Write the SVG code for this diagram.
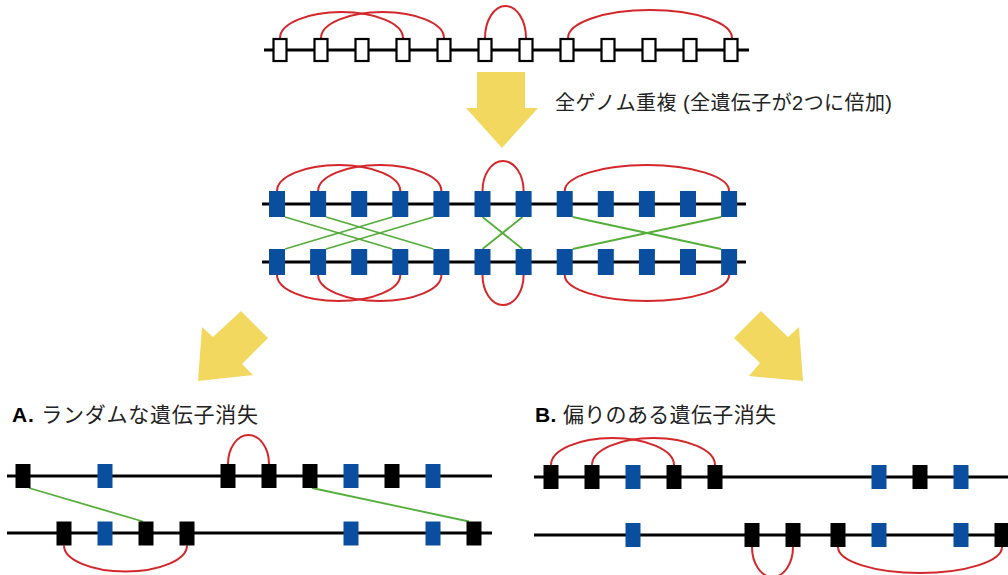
<svg xmlns="http://www.w3.org/2000/svg" width="1008" height="575" viewBox="0 0 1008 575">
<defs>
<style>
.chr{stroke:#000;stroke-width:3;fill:none}
.w{fill:#fff;stroke:#000;stroke-width:2.2}
.b{fill:#0a4ea0}
.k{fill:#000}
.red{fill:none;stroke:#d4272b;stroke-width:2}
.grn{fill:none;stroke:#55ad3a;stroke-width:1.8}
.arr{fill:#f3d85f}
.t{font-family:"Liberation Sans","Noto Sans CJK JP",sans-serif;fill:#222}
</style>
</defs>
<rect width="1008" height="575" fill="#fff"/>

<g id="connectors">
  <!-- top arcs -->
  <path class="red" d="M280 38 A61.5 26 0 0 1 403 38"/>
  <path class="red" d="M321 38 A61.5 26 0 0 1 444 38"/>
  <path class="red" d="M485 38 A20.5 32 0 0 1 526 38"/>
  <path class="red" d="M568 38 A82 28 0 0 1 732 38"/>
  <!-- middle top arcs -->
  <path class="red" d="M277 191 A61.6 26 0 0 1 400.3 191"/>
  <path class="red" d="M318.1 191 A61.6 26 0 0 1 441.4 191"/>
  <path class="red" d="M482.5 191 A20.55 30 0 0 1 523.6 191"/>
  <path class="red" d="M564.7 191 A82.2 26 0 0 1 729.1 191"/>
  <!-- middle bottom arcs -->
  <path class="red" d="M277 275 A61.6 26 0 0 0 400.3 275"/>
  <path class="red" d="M318.1 275 A61.6 26 0 0 0 441.4 275"/>
  <path class="red" d="M482.5 275 A20.55 30 0 0 0 523.6 275"/>
  <path class="red" d="M564.7 275 A82.2 26 0 0 0 729.1 275"/>
  <!-- middle green -->
  <line class="grn" x1="285" y1="217" x2="392.3" y2="249"/>
  <line class="grn" x1="326.1" y1="217" x2="433.4" y2="249"/>
  <line class="grn" x1="392.3" y1="217" x2="285" y2="249"/>
  <line class="grn" x1="433.4" y1="217" x2="326.1" y2="249"/>
  <line class="grn" x1="482.5" y1="217" x2="522.5" y2="249"/>
  <line class="grn" x1="522.5" y1="217" x2="482.5" y2="249"/>
  <line class="grn" x1="572.7" y1="217" x2="721.1" y2="249"/>
  <line class="grn" x1="721.1" y1="217" x2="572.7" y2="249"/>
  <!-- A arcs / lines -->
  <path class="red" d="M228 464 A20.5 29 0 0 1 269 464"/>
  <path class="red" d="M64 545.5 A61.5 26 0 0 0 187 545.5"/>
  <line class="grn" x1="29" y1="488" x2="143" y2="521.5"/>
  <line class="grn" x1="312" y1="488" x2="469" y2="521.5"/>
  <!-- B arcs -->
  <path class="red" d="M551 465 A61.5 27 0 0 1 674 465"/>
  <path class="red" d="M592 465 A61.5 27 0 0 1 715 465"/>
  <path class="red" d="M752 547 A20.5 30 0 0 0 793 547"/>
  <path class="red" d="M838 547 A82 26 0 0 0 1002 547"/>
</g>

<g id="chromosome-original">
  <line class="chr" x1="264" y1="50" x2="749" y2="50"/>
  <rect class="w" x="273.5" y="39" width="13" height="22"/>
  <rect class="w" x="314.5" y="39" width="13" height="22"/>
  <rect class="w" x="355.5" y="39" width="13" height="22"/>
  <rect class="w" x="396.5" y="39" width="13" height="22"/>
  <rect class="w" x="437.5" y="39" width="13" height="22"/>
  <rect class="w" x="478.5" y="39" width="13" height="22"/>
  <rect class="w" x="519.5" y="39" width="13" height="22"/>
  <rect class="w" x="560.5" y="39" width="13" height="22"/>
  <rect class="w" x="601.5" y="39" width="13" height="22"/>
  <rect class="w" x="642.5" y="39" width="13" height="22"/>
  <rect class="w" x="683.5" y="39" width="13" height="22"/>
  <rect class="w" x="724.5" y="39" width="13" height="22"/>
</g>

<g id="arrow-wgd">
  <polygon class="arr" points="477,72 525,72 525,108 538,108 502,148 466,108 477,108"/>
  <text class="t" x="555" y="110" font-size="20" textLength="337" lengthAdjust="spacing">全ゲノム重複 (全遺伝子が2つに倍加)</text>
</g>

<g id="chromosome-dup-top">
  <line class="chr" x1="262" y1="204" x2="746" y2="204"/>
  <rect class="b" x="269" y="191" width="16" height="26"/>
  <rect class="b" x="310.1" y="191" width="16" height="26"/>
  <rect class="b" x="351.2" y="191" width="16" height="26"/>
  <rect class="b" x="392.3" y="191" width="16" height="26"/>
  <rect class="b" x="433.4" y="191" width="16" height="26"/>
  <rect class="b" x="474.5" y="191" width="16" height="26"/>
  <rect class="b" x="515.6" y="191" width="16" height="26"/>
  <rect class="b" x="556.7" y="191" width="16" height="26"/>
  <rect class="b" x="597.8" y="191" width="16" height="26"/>
  <rect class="b" x="638.9" y="191" width="16" height="26"/>
  <rect class="b" x="680" y="191" width="16" height="26"/>
  <rect class="b" x="721.1" y="191" width="16" height="26"/>
</g>

<g id="chromosome-dup-bottom">
  <line class="chr" x1="262" y1="262" x2="746" y2="262"/>
  <rect class="b" x="269" y="249" width="16" height="26"/>
  <rect class="b" x="310.1" y="249" width="16" height="26"/>
  <rect class="b" x="351.2" y="249" width="16" height="26"/>
  <rect class="b" x="392.3" y="249" width="16" height="26"/>
  <rect class="b" x="433.4" y="249" width="16" height="26"/>
  <rect class="b" x="474.5" y="249" width="16" height="26"/>
  <rect class="b" x="515.6" y="249" width="16" height="26"/>
  <rect class="b" x="556.7" y="249" width="16" height="26"/>
  <rect class="b" x="597.8" y="249" width="16" height="26"/>
  <rect class="b" x="638.9" y="249" width="16" height="26"/>
  <rect class="b" x="680" y="249" width="16" height="26"/>
  <rect class="b" x="721.1" y="249" width="16" height="26"/>
</g>

<g id="arrow-left">
  <polygon class="arr" points="241,311 268,338 242,364 253,375 198,381 202,327 213,337"/>
</g>
<g id="arrow-right">
  <polygon class="arr" points="761,311 734,338 760,363 749,376 803,381 799,327 788,337"/>
</g>

<g id="label-A">
  <text class="t" x="12" y="421.5" font-size="21" textLength="246" lengthAdjust="spacing"><tspan font-weight="bold" fill="#000">A.</tspan> ランダムな遺伝子消失</text>
</g>

<g id="chromosome-A-top">
  <line class="chr" x1="7" y1="476" x2="492" y2="476"/>
  <rect class="k" x="15.5" y="464" width="15" height="24"/>
  <rect class="b" x="97.5" y="464" width="15" height="24"/>
  <rect class="k" x="220.5" y="464" width="15" height="24"/>
  <rect class="k" x="261.5" y="464" width="15" height="24"/>
  <rect class="k" x="302.5" y="464" width="15" height="24"/>
  <rect class="b" x="343.5" y="464" width="15" height="24"/>
  <rect class="k" x="384.5" y="464" width="15" height="24"/>
  <rect class="b" x="425.5" y="464" width="15" height="24"/>
</g>

<g id="chromosome-A-bottom">
  <line class="chr" x1="7" y1="533" x2="492" y2="533"/>
  <rect class="k" x="56.5" y="521.5" width="15" height="24"/>
  <rect class="b" x="97.5" y="521.5" width="15" height="24"/>
  <rect class="k" x="138.5" y="521.5" width="15" height="24"/>
  <rect class="k" x="179.5" y="521.5" width="15" height="24"/>
  <rect class="b" x="343.5" y="521.5" width="15" height="24"/>
  <rect class="b" x="425.5" y="521.5" width="15" height="24"/>
  <rect class="k" x="466.5" y="521.5" width="15" height="24"/>
</g>

<g id="label-B">
  <text class="t" x="535" y="421.5" font-size="21" textLength="241" lengthAdjust="spacing"><tspan font-weight="bold" fill="#000">B.</tspan> 偏りのある遺伝子消失</text>
</g>

<g id="chromosome-B-top">
  <line class="chr" x1="534" y1="477" x2="1008" y2="477"/>
  <rect class="k" x="543.5" y="465" width="15" height="24"/>
  <rect class="k" x="584.5" y="465" width="15" height="24"/>
  <rect class="b" x="625.5" y="465" width="15" height="24"/>
  <rect class="k" x="666.5" y="465" width="15" height="24"/>
  <rect class="k" x="707.5" y="465" width="15" height="24"/>
  <rect class="b" x="871.5" y="465" width="15" height="24"/>
  <rect class="k" x="912.5" y="465" width="15" height="24"/>
  <rect class="b" x="953.5" y="465" width="15" height="24"/>
</g>

<g id="chromosome-B-bottom">
  <line class="chr" x1="534" y1="535" x2="1008" y2="535"/>
  <rect class="b" x="625.5" y="523" width="15" height="24"/>
  <rect class="k" x="744.5" y="523" width="15" height="24"/>
  <rect class="k" x="785.5" y="523" width="15" height="24"/>
  <rect class="k" x="830.5" y="523" width="15" height="24"/>
  <rect class="b" x="871.5" y="523" width="15" height="24"/>
  <rect class="b" x="953.5" y="523" width="15" height="24"/>
  <rect class="k" x="994.5" y="523" width="15" height="24"/>
</g>
</svg>
